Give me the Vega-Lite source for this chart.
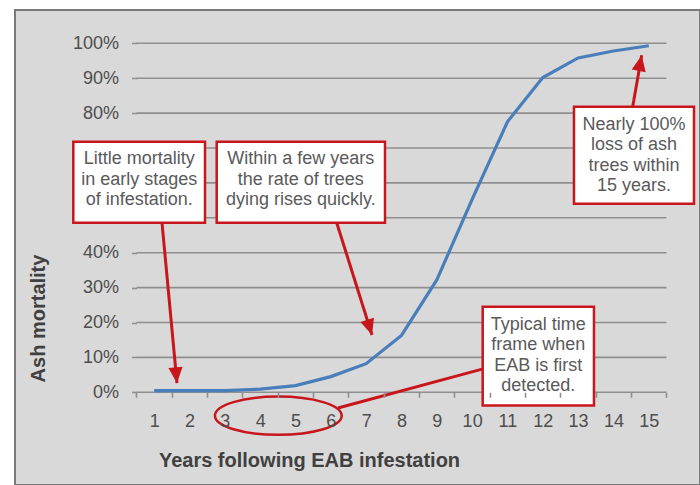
{
  "$schema": "https://vega.github.io/schema/vega-lite/v6.json",
  "width": 685,
  "height": 475,
  "autosize": {"type": "none"},
  "padding": {"left": 15, "top": 10, "right": 0, "bottom": 0},
  "background": "white",
  "config": {
    "view": {"fill": "#d9d9d9", "stroke": "#7a7a7a", "strokeWidth": 2},
    "font": "Liberation Sans"
  },
  "datasets": {
    "mortality": [
      {"year": 1, "mortality": 0.005},
      {"year": 2, "mortality": 0.005},
      {"year": 3, "mortality": 0.005},
      {"year": 4, "mortality": 0.009},
      {"year": 5, "mortality": 0.019},
      {"year": 6, "mortality": 0.045},
      {"year": 7, "mortality": 0.082},
      {"year": 8, "mortality": 0.163},
      {"year": 9, "mortality": 0.322},
      {"year": 10, "mortality": 0.553},
      {"year": 11, "mortality": 0.775},
      {"year": 12, "mortality": 0.902},
      {"year": 13, "mortality": 0.958},
      {"year": 14, "mortality": 0.978},
      {"year": 15, "mortality": 0.993}
    ],
    "grid": [
      {"v": 0}, {"v": 0.1}, {"v": 0.2}, {"v": 0.3}, {"v": 0.4}, {"v": 0.5},
      {"v": 0.6}, {"v": 0.7}, {"v": 0.8}, {"v": 0.9}, {"v": 1}
    ],
    "notes": [
      {"label": "Little mortality\nin early stages\nof infestation.", "x": -1.289, "x2": 2.439, "y": 0.718, "y2": 0.486, "tx": 0.576, "ty": 0.668},
      {"label": "Within a few years\nthe rate of trees\ndying rises quickly.", "x": 2.77, "x2": 7.534, "y": 0.718, "y2": 0.486, "tx": 5.15, "ty": 0.668},
      {"label": "Nearly 100%\nloss of ash\ntrees within\n15 years.", "x": 12.883, "x2": 16.28, "y": 0.818, "y2": 0.54, "tx": 14.58, "ty": 0.766},
      {"label": "Typical time\nframe when\nEAB is first\ndetected.", "x": 10.299, "x2": 13.449, "y": 0.245, "y2": -0.038, "tx": 11.873, "ty": 0.193}
    ],
    "arrows": [
      {"id": 1, "x": 1.222, "y": 0.486, "x2": 1.646, "y2": 0.026},
      {"id": 2, "x": 6.167, "y": 0.486, "x2": 7.166, "y2": 0.164},
      {"id": 3, "x": 14.545, "y": 0.818, "x2": 14.8, "y2": 0.966},
      {"id": 4, "x": 6.203, "y": -0.045, "x2": 10.308, "y2": 0.067}
    ],
    "ellipse": [
      {"x": 4.514, "y": -0.067}
    ]
  },
  "layer": [
    {
      "mark": {"type": "rect", "fill": "white", "stroke": "#333333", "strokeWidth": 2.5},
      "encoding": {
        "x": {"datum": -1.566, "type": "quantitative"},
        "x2": {"datum": 15.968},
        "y": {"datum": 1.0524, "type": "quantitative"},
        "y2": {"datum": -0.1281}
      }
    },
    {
      "data": {"name": "grid"},
      "mark": {"type": "rule", "color": "#8f8f8f", "strokeWidth": 1.6},
      "encoding": {
        "y": {"field": "v", "type": "quantitative"},
        "x": {"datum": 0.5, "type": "quantitative"},
        "x2": {"datum": 15.5}
      }
    },
    {
      "mark": {"type": "rule", "color": "#8f8f8f", "strokeWidth": 1.6},
      "encoding": {
        "x": {"datum": 0.5, "type": "quantitative"},
        "y": {"datum": 0, "type": "quantitative"},
        "y2": {"datum": 1}
      }
    },
    {
      "data": {"name": "mortality"},
      "mark": {"type": "line", "color": "#4a7ebb", "strokeWidth": 3.2},
      "encoding": {
        "x": {
          "field": "year", "type": "quantitative",
          "scale": {"domain": [-2.939, 16.45], "nice": false, "zero": false},
          "axis": {
            "zindex": 1,
            "offset": -92.7,
            "values": [0.5, 1.5, 2.5, 3.5, 4.5, 5.5, 6.5, 7.5, 8.5, 9.5, 10.5, 11.5, 12.5, 13.5, 14.5, 15.5],
            "labelExpr": "datum.value < 15 ? format(datum.value + 0.5, 'd') : ''",
            "labelOffset": 17.67,
            "labelOverlap": false,
            "labelFlush": false,
            "labelBound": false,
            "labelFont": "Liberation Sans",
            "labelFontSize": 18,
            "labelColor": "#4d4d4d",
            "labelBaseline": "middle",
            "labelPadding": 24,
            "domain": false,
            "grid": false,
            "ticks": true,
            "tickSize": 5,
            "tickColor": "#8f8f8f",
            "tickWidth": 1.6,
            "title": "Years following EAB infestation",
            "titleFont": "Liberation Sans",
            "titleFontSize": 20,
            "titleFontWeight": "bold",
            "titleColor": "#404040",
            "titleX": 294,
            "titleY": 67.7,
            "titleBaseline": "middle",
            "titleAlign": "center"
          }
        },
        "y": {
          "field": "mortality", "type": "quantitative",
          "scale": {"domain": [-0.2656, 1.0954], "nice": false, "zero": false},
          "axis": {
            "zindex": 1,
            "offset": -121.5,
            "values": [0, 0.1, 0.2, 0.3, 0.4, 0.8, 0.9, 1],
            "format": ".0%",
            "labelFont": "Liberation Sans",
            "labelFontSize": 18,
            "labelColor": "#4d4d4d",
            "labelBaseline": "middle",
            "labelPadding": 13,
            "domain": false,
            "grid": false,
            "ticks": true,
            "tickSize": 5,
            "tickColor": "#8f8f8f",
            "tickWidth": 1.6,
            "title": "Ash mortality",
            "titleFont": "Liberation Sans",
            "titleFontSize": 20,
            "titleFontWeight": "bold",
            "titleColor": "#404040",
            "titleX": -98.2,
            "titleY": 308,
            "titleBaseline": "middle",
            "titleAlign": "center",
            "titleAngle": 270
          }
        }
      }
    },
    {
      "data": {"name": "arrows"},
      "mark": {"type": "rule", "color": "#c8161d", "strokeWidth": 3},
      "encoding": {
        "x": {"field": "x", "type": "quantitative"},
        "y": {"field": "y", "type": "quantitative"},
        "x2": {"field": "x2"},
        "y2": {"field": "y2"}
      }
    },
    {
      "data": {"name": "ellipse"},
      "mark": {"type": "point", "shape": "M-1,0A1,0.302,0,1,0,1,0A1,0.302,0,1,0,-1,0Z", "size": 16053, "filled": false, "stroke": "#c8161d", "strokeWidth": 2.5, "opacity": 1},
      "encoding": {
        "x": {"field": "x", "type": "quantitative"},
        "y": {"field": "y", "type": "quantitative"}
      }
    },
    {
      "data": {"name": "notes"},
      "mark": {"type": "rect", "fill": "white", "stroke": "#c8161d", "strokeWidth": 2.5},
      "encoding": {
        "x": {"field": "x", "type": "quantitative"},
        "x2": {"field": "x2"},
        "y": {"field": "y", "type": "quantitative"},
        "y2": {"field": "y2"}
      }
    },
    {
      "data": {"name": "notes"},
      "mark": {"type": "text", "font": "Liberation Sans", "fontSize": 18, "color": "#5a5a5a", "lineBreak": "\n", "lineHeight": 20.5, "align": "center", "baseline": "middle"},
      "encoding": {
        "x": {"field": "tx", "type": "quantitative"},
        "y": {"field": "ty", "type": "quantitative"},
        "text": {"field": "label", "type": "nominal"}
      }
    },
    {
      "data": {"name": "arrows"},
      "transform": [{"filter": "datum.id == 1"}],
      "mark": {"type": "point", "shape": "M0,0L0.6,1.35L-0.6,1.35Z", "size": 560, "filled": true, "color": "#c8161d", "opacity": 1, "angle": 174.6},
      "encoding": {
        "x": {"field": "x2", "type": "quantitative"},
        "y": {"field": "y2", "type": "quantitative"}
      }
    },
    {
      "data": {"name": "arrows"},
      "transform": [{"filter": "datum.id == 2"}],
      "mark": {"type": "point", "shape": "M0,0L0.6,1.35L-0.6,1.35Z", "size": 560, "filled": true, "color": "#c8161d", "opacity": 1, "angle": 162.5},
      "encoding": {
        "x": {"field": "x2", "type": "quantitative"},
        "y": {"field": "y2", "type": "quantitative"}
      }
    },
    {
      "data": {"name": "arrows"},
      "transform": [{"filter": "datum.id == 3"}],
      "mark": {"type": "point", "shape": "M0,0L0.6,1.35L-0.6,1.35Z", "size": 560, "filled": true, "color": "#c8161d", "opacity": 1, "angle": 10.9},
      "encoding": {
        "x": {"field": "x2", "type": "quantitative"},
        "y": {"field": "y2", "type": "quantitative"}
      }
    }
  ]
}
